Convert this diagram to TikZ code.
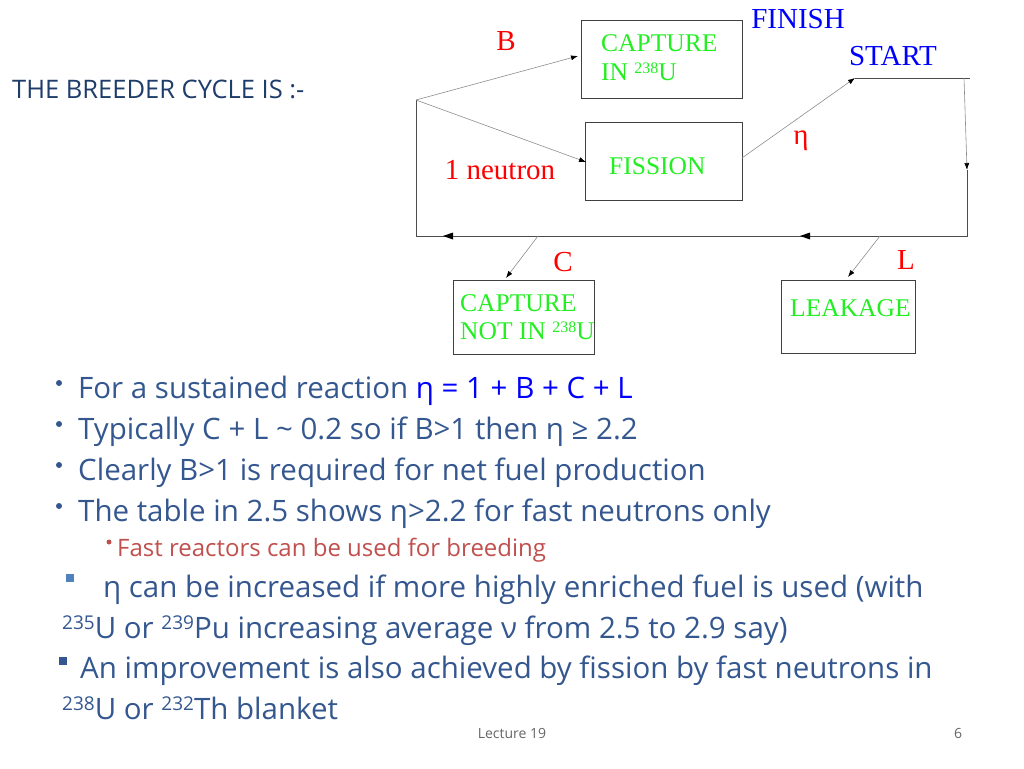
\documentclass[tikz,border=0pt]{standalone}
\usepackage{fontspec}
\setmainfont{Liberation Serif}
\newfontfamily\osf{Open Sans}
\usetikzlibrary{arrows.meta}
\definecolor{txt}{HTML}{34578F}
\definecolor{hd}{HTML}{1F3D6B}
\definecolor{grn}{HTML}{22EE22}
\definecolor{redb}{HTML}{C0504D}
\definecolor{sq}{HTML}{4F81BD}
\begin{document}
\begin{tikzpicture}[x=1pt,y=-1pt,
  box/.style={draw=black!75,line width=0.8pt},
  ln/.style={draw=black!70,line width=0.9pt},
  thin/.style={draw=black!45,line width=0.6pt,-{Latex[length=7pt,width=5pt,black]}},
  gt/.style={text=grn,font=\fontsize{25.5}{28}\selectfont,anchor=base west,inner sep=0},
  rl/.style={text=red,font=\fontsize{29}{32}\selectfont,anchor=base,inner sep=0},
  bl/.style={text=blue,font=\fontsize{29}{32}\selectfont,anchor=base,inner sep=0},
  bt/.style={text=txt,font=\osf\fontsize{29.5}{32}\selectfont,anchor=base west,inner sep=0},
  dot/.style={fill=txt,circle,inner sep=0,minimum size=6pt}]
\useasboundingbox (0,0) rectangle (1024,768);
\node[anchor=base west,inner sep=0,text=hd,font=\osf\fontsize{25.5}{28}\selectfont] (title) at (12,98) {THE BREEDER CYCLE IS :-};
% boxes
\draw[box] (581,20) rectangle (742,98);
\draw[box] (585,122) rectangle (742,200);
\draw[box] (453,280) rectangle (594,354);
\draw[box] (781,280) rectangle (915,353);
\node[gt] (cap1) at (601,52) {CAPTURE};
\node[gt] (cap2) at (601,80) {IN {\fontsize{16}{18}\selectfont\raisebox{7pt}{238}}U};
\node[gt] (fis) at (609,174) {FISSION};
\node[gt] (cn1) at (460,311) {CAPTURE};
\node[gt] (cn2) at (460,339) {NOT IN {\fontsize{16}{18}\selectfont\raisebox{7pt}{238}}U};
\node[gt] (lk) at (790,316) {LEAKAGE};
% coordinates
\coordinate (src) at (416,100);
\coordinate (capin) at (578,56);
\coordinate (fisin) at (586,162);
\coordinate (fisout) at (742,158);
\coordinate (st) at (855,78);
\coordinate (ste) at (970,78);
\coordinate (rt) at (967,236);
\coordinate (lb) at (416,236);
\coordinate (cA) at (538,236);
\coordinate (cB) at (506,278);
\coordinate (lA) at (880,236);
\coordinate (lB) at (848,277);
% lines
\draw[ln] (st) -- (ste);
\draw[thin] (964,78) -- (967,170);
\draw[ln] (967,170) -- (rt) -- (lb) -- (src);
\fill[black] (800,236) -- (810,232.5) -- (810,239.5) -- cycle;
\fill[black] (443,236) -- (453,232.5) -- (453,239.5) -- cycle;
\draw[thin] (src) -- (capin);
\draw[thin] (src) -- (fisin);
\draw[thin] (fisout) -- (st);
\draw[thin] (cA) -- (cB);
\draw[thin] (lA) -- (lB);
% labels
\node[rl] (B) at (506,50) {B};
\node[rl] (eta) at (801,144) {η};
\node[rl] (neu) at (500,179) {1 neutron};
\node[rl] (C) at (563,271) {C};
\node[rl] (L) at (906,269) {L};
\node[bl] (fin) at (798,29) {FINISH};
\node[bl] (sta) at (893,65) {START};
% bullets
\node[dot] (d1) at (59,383) {};
\node[dot] (d2) at (59,424) {};
\node[dot] (d3) at (59,465) {};
\node[dot] (d4) at (59,506) {};
\node[bt] (l1) at (78,398) {For a sustained reaction \textcolor{blue}{η = 1 + B + C + L}};
\node[bt] (l2) at (78,439) {Typically C + L \char`~\ 0.2 so if B>1 then η ≥ 2.2};
\node[bt] (l3) at (78,480) {Clearly B>1 is required for net fuel production};
\node[bt] (l4) at (78,521) {The table in 2.5 shows η>2.2 for fast neutrons only};
\node[fill=redb,circle,inner sep=0,minimum size=5pt] (d5) at (109,542) {};
\node[anchor=base west,inner sep=0,text=redb,font=\osf\fontsize{24}{26}\selectfont] (l5) at (117,556) {Fast reactors can be used for breeding};
\node[fill=sq,inner sep=0,minimum size=8pt] (s1) at (70,578) {};
\node[bt] (l6) at (103,597) {η can be increased if more highly enriched fuel is used (with};
\node[bt] (l7) at (62,638) {{\fontsize{19}{20}\selectfont\raisebox{9pt}{235}}U or {\fontsize{19}{20}\selectfont\raisebox{9pt}{239}}Pu increasing average ν from 2.5 to 2.9 say)};
\node[fill=txt,inner sep=0,minimum size=8pt] (s2) at (63,661) {};
\node[bt] (l8) at (80,678) {An improvement is also achieved by fission by fast neutrons in};
\node[bt] (l9) at (62,719) {{\fontsize{19}{20}\selectfont\raisebox{9pt}{238}}U or {\fontsize{19}{20}\selectfont\raisebox{9pt}{232}}Th blanket};
\node[anchor=base,inner sep=0,text=black!60,font=\osf\fontsize{14}{16}\selectfont] (ft) at (512,738) {Lecture 19};
\node[anchor=base,inner sep=0,text=black!60,font=\osf\fontsize{14}{16}\selectfont] (pg) at (958,738) {6};
\end{tikzpicture}
\end{document}
